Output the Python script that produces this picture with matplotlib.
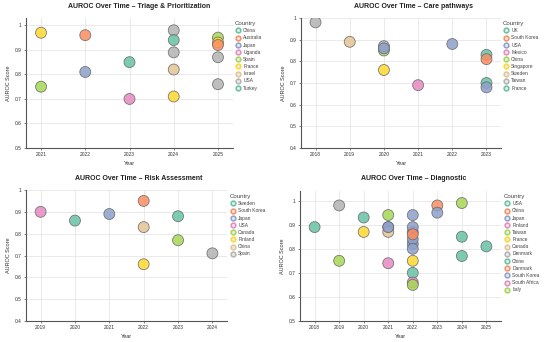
import matplotlib
matplotlib.use("Agg")
import matplotlib.pyplot as plt
from matplotlib.lines import Line2D
from matplotlib.ticker import FuncFormatter

plt.rcParams["font.family"] = ["Liberation Sans", "DejaVu Sans"]

SET2 = ["#66c2a5", "#fc8d62", "#8da0cb", "#e78ac3",
        "#a6d854", "#ffd92f", "#e5c494", "#b3b3b3"]

# Triage & Prioritization
triage_countries = ["China", "Australia", "Japan", "Uganda", "Spain",
                    "France", "Israel", "USA", "Turkey"]
triage_year = [2023, 2022, 2022, 2023, 2021, 2021, 2024, 2024, 2024, 2024,
               2024, 2025, 2025, 2025, 2025, 2025]
triage_auroc = [0.85, 0.96, 0.81, 0.70, 0.75, 0.97, 0.82, 0.98, 0.94, 0.89,
                0.71, 0.95, 0.93, 0.92, 0.87, 0.76]
triage_country = ["China", "Australia", "Japan", "Uganda", "Spain", "France",
                  "Israel", "USA", "Turkey", "USA", "France", "Spain",
                  "France", "Australia", "USA", "USA"]

# Care pathways
care_countries = ["UK", "South Korea", "USA", "Mexico", "China",
                  "Singapore", "Sweden", "Taiwan", "France"]
care_year = [2023, 2023, 2022, 2021, 2020, 2020, 2019, 2018, 2023, 2020,
             2023, 2020]
care_auroc = [0.83, 0.81, 0.88, 0.69, 0.85, 0.76, 0.89, 0.98, 0.70, 0.87,
              0.68, 0.86]
care_country = ["UK", "South Korea", "USA", "Mexico", "China", "Singapore",
                "Sweden", "Taiwan", "France", "Taiwan", "USA", "USA"]

# Risk Assessment
risk_countries = ["Sweden", "South Korea", "Japan", "USA", "Canada",
                  "Finland", "China", "Spain"]
risk_year = [2020, 2022, 2021, 2019, 2023, 2022, 2022, 2024, 2023]
risk_auroc = [0.86, 0.95, 0.89, 0.90, 0.77, 0.66, 0.83, 0.71, 0.88]
risk_country = ["Sweden", "South Korea", "Japan", "USA", "Canada",
                "Finland", "China", "Spain", "Sweden"]

# Diagnostic
diag_countries = ["USA", "China", "Japan", "Finland", "Taiwan", "France",
                  "Canada", "Denmark", "Chine", "Danmark", "South Korea",
                  "South Africa", "Italy"]
diag_year = [2018, 2023, 2021, 2021, 2019, 2020, 2021, 2019, 2022, 2022,
             2022, 2022, 2024, 2020, 2021, 2022, 2022, 2022, 2022, 2022,
             2022, 2023, 2024, 2024, 2025, 2022, 2021]
diag_auroc = [0.89, 0.98, 0.89, 0.74, 0.75, 0.87, 0.87, 0.98, 0.70, 0.87,
              0.82, 0.66, 0.99, 0.93, 0.94, 0.94, 0.89, 0.84, 0.80, 0.75,
              0.65, 0.95, 0.85, 0.77, 0.81, 0.86, 0.89]
diag_country = ["USA", "China", "Japan", "Finland", "Taiwan", "France",
                "Canada", "Denmark", "Chine", "Danmark", "South Korea",
                "South Africa", "Italy", "USA", "Taiwan", "Japan", "Japan",
                "Japan", "Japan", "France", "Taiwan", "South Korea", "USA",
                "USA", "USA", "China", "South Korea"]

panels = [
    ("AUROC Over Time \u2013 Triage & Prioritization", triage_countries,
     triage_year, triage_auroc, triage_country, (0.5, 1.03)),
    ("AUROC Over Time \u2013 Care pathways", care_countries,
     care_year, care_auroc, care_country, (0.4, 1.0)),
    ("AUROC Over Time \u2013 Risk Assessment", risk_countries,
     risk_year, risk_auroc, risk_country, (0.4, 1.0)),
    ("AUROC Over Time \u2013 Diagnostic", diag_countries,
     diag_year, diag_auroc, diag_country, (0.5, 1.04)),
]

W, H = 550, 342
# axes boxes in pixels: left, top, right, bottom
boxes = [(26, 18, 233, 148), (301, 18, 501, 148),
         (26, 190, 227, 321), (300, 191, 501, 321)]
legend_pos = [(234, 20), (502, 20), (229, 193), (503, 193)]
title_pos = [(139, 6), (414, 6), (139, 178), (414, 178)]

fig = plt.figure(figsize=(W / 100, H / 100), dpi=100)

for i, (title, countries, years, scores, ctry, ylim) in enumerate(panels):
    l, t, r, b = boxes[i]
    ax = fig.add_axes([l / W, 1 - b / H, (r - l) / W, (b - t) / H])
    cmap = {c: SET2[k % len(SET2)] for k, c in enumerate(countries)}
    ax.scatter(years, scores, s=62, c=[cmap[c] for c in ctry],
               edgecolors="#666666", linewidths=0.6, alpha=0.85, zorder=3)
    ax.set_ylim(*ylim)
    ax.set_xticks(sorted(set(years)))
    ax.margins(x=0.085)
    ax.yaxis.set_major_formatter(FuncFormatter(lambda v, p: "{:g}".format(round(v, 2))))
    ax.grid(True, color="#e6e6e6", linewidth=0.6, zorder=0)
    for s in ["top", "right"]:
        ax.spines[s].set_visible(False)
    for s in ["left", "bottom"]:
        ax.spines[s].set_color("#555555")
        ax.spines[s].set_linewidth(0.8)
    ax.tick_params(labelsize=3.5, length=1.5, width=0.5, colors="#555555",
                   pad=1.5, labelcolor="#333333")
    ax.set_xlabel("Year", fontsize=4.0, color="#333333", labelpad=3)
    ax.set_ylabel("AUROC Score", fontsize=4.0, color="#333333", labelpad=3)

    tx, ty = title_pos[i]
    fig.text(tx / W, 1 - ty / H, title, ha="center", va="center",
             fontsize=5.0, fontweight="bold", color="#222222")

    handles = [Line2D([], [], marker="o", linestyle="none", markersize=3.4,
                      markerfacecolor="#e8e8e8", markeredgecolor=cmap[c],
                      markeredgewidth=1.1) for c in countries]
    lx, ly = legend_pos[i]
    leg = fig.legend(handles, countries, loc="upper left",
                     bbox_to_anchor=(lx / W, 1 - ly / H), frameon=False,
                     fontsize=3.5, title="Country", title_fontsize=4.4,
                     labelspacing=0.45, handletextpad=0.5, handlelength=1.2,
                     borderpad=0.2, borderaxespad=0)
    leg._legend_box.align = "left"
    for txt in leg.get_texts():
        txt.set_color("#444444")
    leg.get_title().set_color("#444444")

fig.savefig("out.png", dpi=100)
